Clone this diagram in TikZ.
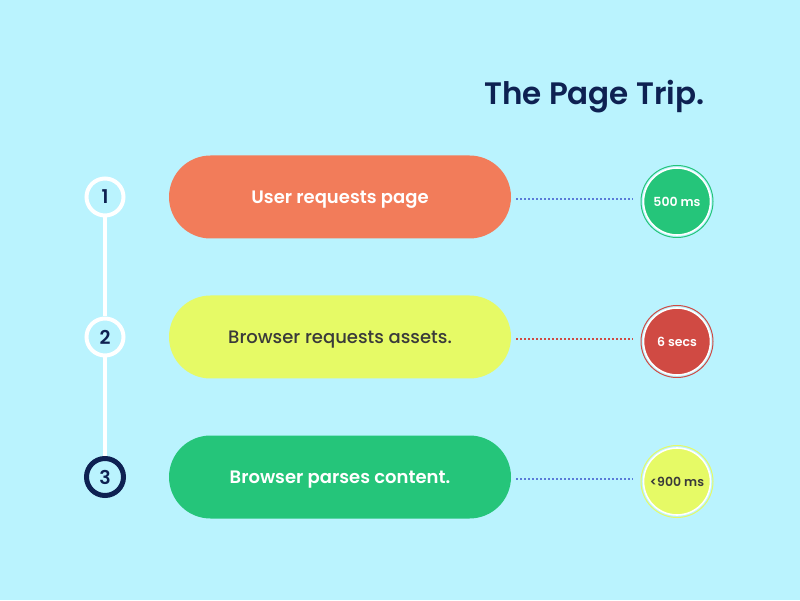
\documentclass[tikz,border=0pt]{standalone}
\usepackage{fontspec}
\setmainfont{Poppins}[BoldFont={* SemiBold}]
\newfontfamily\medfont{Poppins Medium}
\definecolor{bgc}{HTML}{BAF3FE}
\definecolor{navy}{HTML}{0E2152}
\definecolor{pillor}{HTML}{F27C5A}
\definecolor{pillye}{HTML}{E6FA66}
\definecolor{pillgr}{HTML}{25C57A}
\definecolor{redc}{HTML}{D04A43}
\definecolor{dotblue}{HTML}{5A7BD8}
\definecolor{txtgray}{HTML}{3A3A3A}
\newcommand\lowr[1]{\raisebox{-3pt}[\height][\depth]{#1}}
\tikzset{
  pill/.style={rounded rectangle, minimum width=342pt, minimum height=83pt, inner sep=0pt},
  stepc/.style={circle, draw=white, line width=4pt, fill=bgc, minimum size=37pt, inner sep=0pt, text=navy, font=\bfseries\fontsize{19}{21}\selectfont},
  badge/.style={circle, draw=white, line width=1.6pt, minimum size=67pt, inner sep=0pt, font=\bfseries\fontsize{12.5}{14}\selectfont},
  ring/.style={circle, line width=1pt, minimum size=72pt, inner sep=0pt},
  dotl/.style={line width=1.3pt, dash pattern=on 2pt off 2pt},
  pilltext/.style={font=\bfseries\fontsize{18}{20}\selectfont}
}
\usetikzlibrary{shapes.misc}
\begin{document}
\begin{tikzpicture}[x=1pt,y=1pt]
\useasboundingbox (0,0) rectangle (800,600);
\fill[bgc] (0,0) rectangle (800,600);
% title
\node[anchor=base west, inner sep=0pt, text=navy, font=\bfseries\fontsize{31}{34}\selectfont] (title) at (484,495) {The Page Trip.};
% pills
\node[pill, fill=pillor, text=white, pilltext] (p1) at (340,403) {\lowr{User requests page}};
\node[pill, fill=pillye, text=txtgray, font=\medfont\fontsize{18}{20}\selectfont] (p2) at (340,263) {\lowr{Browser requests assets.}};
\node[pill, fill=pillgr, text=white, pilltext] (p3) at (340,123) {\lowr{Browser parses content.}};
% steps
\node[stepc] (s1) at (105,403) {1};
\node[stepc] (s2) at (105,263) {2};
\node[stepc, draw=navy, line width=5pt] (s3) at (105,123) {3};
\draw[white, line width=4pt] (s1.south) -- (s2.north);
\draw[white, line width=4pt] (s2.south) -- (s3.north);
% badges
\node[ring, draw=pillgr] (r1) at (677,398.5) {};
\node[badge, fill=pillgr, text=white] (b1) at (677,398.5) {500 ms};
\node[ring, draw=redc] (r2) at (677,258.5) {};
\node[badge, fill=redc, text=white] (b2) at (677,258.5) {6 secs};
\node[ring, draw=pillye] (r3) at (677,118.5) {};
\node[badge, fill=pillye, text=txtgray] (b3) at (677,118.5) {<900 ms};
% dotted connectors
\coordinate (c1a) at (516,401); \coordinate (c1b) at (633,401);
\coordinate (c2a) at (516,261); \coordinate (c2b) at (633,261);
\coordinate (c3a) at (516,121); \coordinate (c3b) at (633,121);
\draw[dotl, dotblue] (c1a) -- (c1b);
\draw[dotl, redc] (c2a) -- (c2b);
\draw[dotl, dotblue] (c3a) -- (c3b);
\end{tikzpicture}
\end{document}
